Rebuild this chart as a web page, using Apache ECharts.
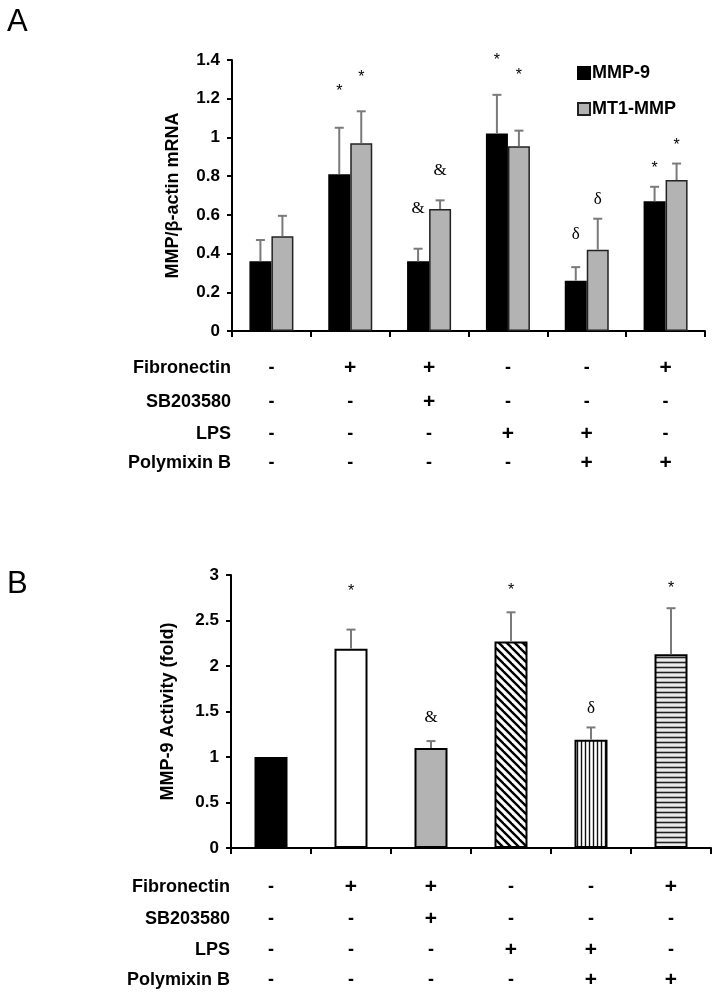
<!DOCTYPE html>
<html><head><meta charset="utf-8">
<script src="https://cdn.jsdelivr.net/npm/echarts@6/dist/echarts.min.js"></script>
<style>html,body{margin:0;padding:0;background:#fff}#c{width:724px;height:1000px}</style>
</head><body><div id="c"></div>
<script>
// ---------- data ----------
const groups = ['G1','G2','G3','G4','G5','G6'];
const rowNames = ['Fibronectin','SB203580','LPS','Polymixin B'];
const rowFibronectin = ['-','+','+','-','-','+'];
const rowSB203580   = ['-','-','+','-','-','-'];
const rowLPS        = ['-','-','-','+','+','-'];
const rowPolymixin  = ['-','-','-','-','+','+'];
const tableRows = [rowFibronectin, rowSB203580, rowLPS, rowPolymixin];

// Panel A: MMP / beta-actin mRNA
const mmp9Mean = [0.36, 0.81, 0.36, 1.02, 0.26, 0.67];
const mmp9Err  = [0.11, 0.24, 0.065, 0.20, 0.07, 0.075];
const mmp9Sig  = ['', '*', '&', '*', 'δ', '*'];
const mmp9SigY = [null, 1.26, 0.635, 1.42, 0.50, 0.86];
const mt1Mean  = [0.49, 0.97, 0.63, 0.955, 0.42, 0.78];
const mt1Err   = [0.105, 0.165, 0.045, 0.08, 0.16, 0.085];
const mt1Sig   = ['', '*', '&', '*', 'δ', '*'];
const mt1SigY  = [null, 1.33, 0.83, 1.34, 0.68, 0.98];
const yTicksA  = [0, 0.2, 0.4, 0.6, 0.8, 1, 1.2, 1.4];

// Panel B: MMP-9 activity (fold)
const actMean = [1.0, 2.19, 1.10, 2.27, 1.19, 2.13];
const actErr  = [0, 0.21, 0.075, 0.32, 0.135, 0.505];
const actSig  = ['', '*', '&', '*', 'δ', '*'];
const actSigY = [null, 2.86, 1.43, 2.87, 1.53, 2.89];
const yTicksB = [0, 0.5, 1, 1.5, 2, 2.5, 3];

// ---------- styles ----------
const FONT = 'Liberation Sans, Arial, sans-serif';
const SERIF = 'Liberation Serif, Times New Roman, serif';
const ERR_COLOR = '#7a7a7a';

function makePattern(kind){
  const c = document.createElement('canvas');
  let ctx;
  if (kind === 'diag') {
    const s = 8; c.width = s; c.height = s; ctx = c.getContext('2d');
    ctx.fillStyle = '#fff'; ctx.fillRect(0,0,s,s);
    ctx.strokeStyle = '#000'; ctx.lineWidth = 2.4;
    for (let k = -1; k <= 1; k++) { ctx.beginPath(); ctx.moveTo(-2, -2 + k*s); ctx.lineTo(s+2, s+2 + k*s); ctx.stroke(); }
  } else if (kind === 'vert') {
    c.width = 4; c.height = 4; ctx = c.getContext('2d');
    ctx.fillStyle = '#fff'; ctx.fillRect(0,0,4,4);
    ctx.strokeStyle = '#111'; ctx.lineWidth = 1.4;
    ctx.beginPath(); ctx.moveTo(1.5,0); ctx.lineTo(1.5,4); ctx.stroke();
  } else {
    c.width = 4; c.height = 5; ctx = c.getContext('2d');
    ctx.fillStyle = '#ececec'; ctx.fillRect(0,0,4,5);
    ctx.strokeStyle = '#222'; ctx.lineWidth = 1.6;
    ctx.beginPath(); ctx.moveTo(0,2.5); ctx.lineTo(4,2.5); ctx.stroke();
  }
  return {image: c, repeat: 'repeat'};
}
const fillsB = ['#000000', '#ffffff', '#b3b3b3', makePattern('diag'), makePattern('vert'), makePattern('horiz')];

function errSeries(name, xAxisIndex, yAxisIndex, mean, err, sig, sigY, shiftPx){
  return {
    name: name + '-err', type: 'custom', xAxisIndex, yAxisIndex, z: 5, clip: false, silent: true,
    data: groups.map((g, i) => [i, mean[i], mean[i] + err[i]]),
    renderItem: function(params, api){
      const i = params.dataIndex;
      const base = api.coord([i, mean[i]]);
      const top = api.coord([i, mean[i] + err[i]]);
      const x = base[0] + shiftPx;
      const children = [];
      if (err[i] > 0) {
        children.push({type:'line', shape:{x1:x, y1:base[1], x2:x, y2:top[1]}, style:{stroke:ERR_COLOR, lineWidth:2}});
        children.push({type:'line', shape:{x1:x-4.5, y1:top[1], x2:x+4.5, y2:top[1]}, style:{stroke:ERR_COLOR, lineWidth:2}});
      }
      if (sig[i] && sigY[i] != null) {
        const p = api.coord([i, sigY[i]]);
        const star = sig[i] === '*';
        children.push({type:'text', style:{
          text: sig[i], x: x, y: p[1] + (star ? 4 : 0), align:'center', verticalAlign:'middle',
          fontSize: star ? 16 : 17, fontFamily: star ? FONT : SERIF, fill:'#000'
        }});
      }
      return {type:'group', children};
    }
  };
}

function rowAxis(gridIndex, r, offset){
  return {
    type:'category', gridIndex, position:'bottom', offset, data: groups,
    axisLine:{show:false}, axisTick:{show:false}, splitLine:{show:false},
    axisLabel:{show:true, interval:0, margin:0, verticalAlign:'middle',
      formatter:(v, idx) => tableRows[r][idx] === '+' ? '{p|+}' : '{m|-}',
      rich:{
        p:{color:'#000', fontFamily:FONT, fontWeight:'bold', fontSize:21},
        m:{color:'#000', fontFamily:FONT, fontWeight:'bold', fontSize:18}
      },
      color:'#000', fontFamily:FONT, fontWeight:'bold', fontSize:18},
    name: rowNames[r], nameLocation:'start', nameGap: 1,
    nameTextStyle:{color:'#000', fontFamily:FONT, fontWeight:'bold', fontSize:18, align:'right', verticalAlign:'middle'}
  };
}

function mainXAxis(gridIndex){
  return {type:'category', gridIndex, data: groups,
    axisLine:{show:true, lineStyle:{color:'#000', width:2}},
    axisTick:{show:true, length:6, lineStyle:{color:'#000', width:2}},
    axisLabel:{show:false}, splitLine:{show:false}};
}

function yAxisDef(gridIndex, ticks, name, nameGap){
  return {type:'value', gridIndex, min: ticks[0], max: ticks[ticks.length-1], interval: ticks[1]-ticks[0],
    axisLine:{show:true, lineStyle:{color:'#000', width:2}},
    axisTick:{show:true, length:5, lineStyle:{color:'#000', width:2}},
    splitLine:{show:false},
    axisLabel:{color:'#000', fontFamily:FONT, fontWeight:'bold', fontSize:17, margin:12},
    name, nameLocation:'middle', nameGap,
    nameTextStyle:{color:'#000', fontFamily:FONT, fontWeight:'bold', fontSize:18}};
}

const rowOffsetsA = [37, 71, 103, 132];
const rowOffsetsB = [39, 71, 102, 132];

const option = {
  animation:false,
  backgroundColor:'#fff',
  title:[
    {text:'A', left:2, top:2, textStyle:{fontSize:31, fontWeight:'normal', fontFamily:FONT, color:'#000'}},
    {text:'B', left:2, top:564, textStyle:{fontSize:31, fontWeight:'normal', fontFamily:FONT, color:'#000'}}
  ],
  legend:{data:['MMP-9','MT1-MMP'], orient:'vertical', left:577, top:64, padding:0, itemWidth:12, itemHeight:12, itemGap:18,
    icon:'rect', textStyle:{color:'#000', fontFamily:FONT, fontWeight:'bold', fontSize:18, padding:[0,0,0,-3]}},
  grid:[
    {left:232, right:19, top:60, height:271},
    {left:231, right:13, top:575, height:273}
  ],
  xAxis:[
    mainXAxis(0), rowAxis(0,0,rowOffsetsA[0]), rowAxis(0,1,rowOffsetsA[1]), rowAxis(0,2,rowOffsetsA[2]), rowAxis(0,3,rowOffsetsA[3]),
    mainXAxis(1), rowAxis(1,0,rowOffsetsB[0]), rowAxis(1,1,rowOffsetsB[1]), rowAxis(1,2,rowOffsetsB[2]), rowAxis(1,3,rowOffsetsB[3])
  ],
  yAxis:[
    yAxisDef(0, yTicksA, 'MMP/β-actin mRNA', 50),
    yAxisDef(1, yTicksB, 'MMP-9 Activity (fold)', 54)
  ],
  series:[
    {name:'MMP-9', type:'bar', xAxisIndex:0, yAxisIndex:0, data: mmp9Mean, barWidth:22, barGap:'0%',
      itemStyle:{color:'#000', borderColor:'#000', borderWidth:1.5}},
    {name:'MT1-MMP', type:'bar', xAxisIndex:0, yAxisIndex:0, data: mt1Mean, barWidth:22, barGap:'0%',
      itemStyle:{color:'#b3b3b3', borderColor:'#222', borderWidth:1.5}},
    errSeries('MMP-9', 0, 0, mmp9Mean, mmp9Err, mmp9Sig, mmp9SigY, -11),
    errSeries('MT1-MMP', 0, 0, mt1Mean, mt1Err, mt1Sig, mt1SigY, 11),
    {name:'Activity', type:'bar', xAxisIndex:5, yAxisIndex:1, barWidth:33,
      data: actMean.map((v, i) => ({value:v, itemStyle:{color: fillsB[i]}})),
      itemStyle:{borderColor:'#000', borderWidth:2}},
    errSeries('Activity', 5, 1, actMean, actErr, actSig, actSigY, 0)
  ]
};
const chart = echarts.init(document.getElementById('c'), null, {renderer:'canvas'});
chart.setOption(option);
</script>
</body></html>
